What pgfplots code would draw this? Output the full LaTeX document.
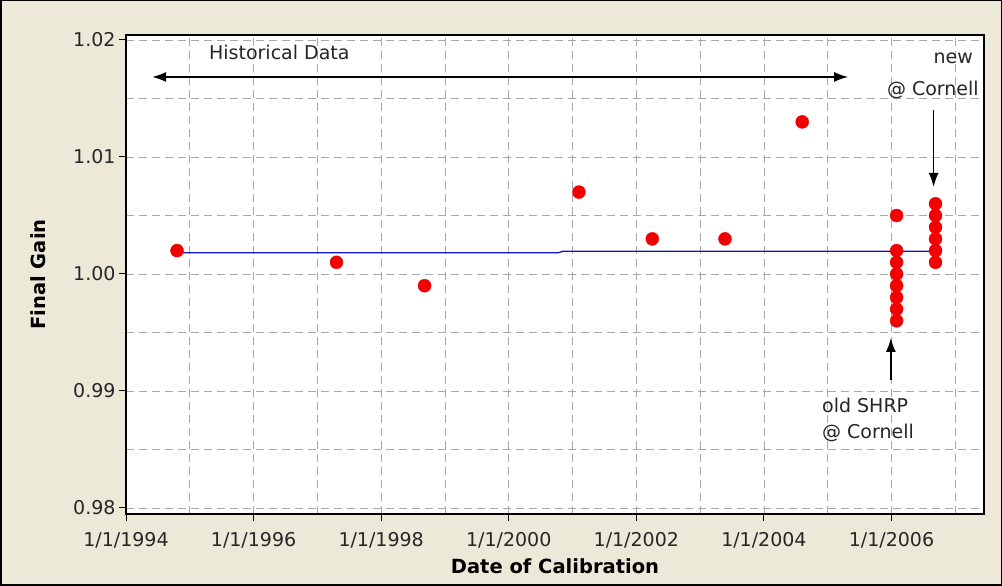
\documentclass[border=0pt]{standalone}
\usepackage{fontspec}
\setmainfont{DejaVu Sans}
\usepackage{pgfplots}
\pgfplotsset{compat=1.18}
\usetikzlibrary{arrows.meta}
\definecolor{bgbeige}{HTML}{ECE9D8}
\definecolor{gridgray}{HTML}{A8A8A8}
\definecolor{ptred}{HTML}{F20000}
\definecolor{lineblue}{HTML}{1414C0}
\begin{document}
\begin{tikzpicture}[x=1pt,y=1pt]
\fill[bgbeige] (0,0) rectangle (1002,586);
\draw[black, line width=1.5pt] (0.75,0.75) rectangle (1001.25,585.25);
\begin{axis}[
  at={(126pt,72pt)}, anchor=south west,
  scale only axis, width=858pt, height=479pt,
  xmin=1994, xmax=2007.45,
  ymin=0.979487, ymax=1.020427,
  axis background/.style={fill=white},
  axis line style={line width=1.2pt},
  xtick={1994,1996,1998,2000,2002,2004,2006},
  xticklabels={1/1/1994,1/1/1996,1/1/1998,1/1/2000,1/1/2002,1/1/2004,1/1/2006},
  minor xtick={1995,1997,1999,2001,2003,2005,2007},
  ytick={0.98,0.99,1.00,1.01,1.02},
  yticklabels={0.98,0.99,1.00,1.01,1.02},
  minor ytick={0.985,0.995,1.005,1.015},
  grid=both,
  major grid style={gridgray, dash pattern=on 8pt off 5pt, line width=0.8pt},
  minor grid style={gridgray, dash pattern=on 8pt off 5pt, line width=0.8pt},
  tick align=outside, tick pos=left,
  major tick length=7pt, minor tick length=0pt,
  tick style={black, line width=1pt},
  tick label style={font=\fontsize{19}{23}\selectfont, black!85},
  xticklabel style={yshift=-8pt},
  x label style={at={(axis description cs:0.5,-0.1086)}, anchor=center, font=\fontsize{19.5}{23}\selectfont\bfseries},
  y label style={at={(axis description cs:-0.1026,0.5)}, anchor=center, font=\fontsize{19.5}{23}\selectfont\bfseries},
  xlabel={Date of Calibration},
  ylabel={Final Gain},
  clip=false,
]
% average line
\addplot[lineblue, line width=1.3pt, forget plot] coordinates {
  (1994.80,1.00182) (2000.78,1.00182) (2000.85,1.00195) (2006.69,1.00195)
};
% calibration points
\addplot[only marks, mark=*, mark size=6.5pt, mark options={fill=ptred, draw=ptred}] coordinates {
  (1994.80,1.002)
  (1997.30,1.001)
  (1998.68,0.999)
  (2001.10,1.007)
  (2002.25,1.003)
  (2003.39,1.003)
  (2004.60,1.013)
  (2006.08,1.005)
  (2006.08,1.002)
  (2006.08,1.001)
  (2006.08,1.000)
  (2006.08,0.999)
  (2006.08,0.998)
  (2006.08,0.997)
  (2006.08,0.996)
  (2006.69,1.006)
  (2006.69,1.005)
  (2006.69,1.004)
  (2006.69,1.003)
  (2006.69,1.002)
  (2006.69,1.001)
};
% annotations
\draw[{Latex[length=14pt,width=10pt]}-{Latex[length=14pt,width=10pt]}, line width=1.5pt]
  (axis cs:1994.41,1.01684) -- (axis cs:2005.32,1.01684);
\node[anchor=west, font=\fontsize{19}{23}\selectfont, black!85, inner sep=0pt] at (axis cs:1995.30,1.01897) {Historical Data};
\node[anchor=east, font=\fontsize{19}{23}\selectfont, black!85, inner sep=0pt] at (axis cs:2007.28,1.01846) {new};
\node[anchor=east, font=\fontsize{19}{23}\selectfont, black!85, inner sep=0pt] at (axis cs:2007.37,1.01573) {@ Cornell};
\draw[-{Latex[length=14pt,width=10pt]}, line width=1.5pt]
  (axis cs:2006.66,1.01402) -- (axis cs:2006.66,1.00744);
\draw[-{Latex[length=14pt,width=10pt]}, line width=1.5pt]
  (axis cs:2005.99,0.99094) -- (axis cs:2005.99,0.99453);
\node[anchor=west, font=\fontsize{19}{23}\selectfont, black!85, inner sep=0pt] at (axis cs:2004.91,0.98880) {old SHRP};
\node[anchor=west, font=\fontsize{19}{23}\selectfont, black!85, inner sep=0pt] at (axis cs:2004.91,0.98641) {@ Cornell};
\end{axis}
\end{tikzpicture}
\end{document}
